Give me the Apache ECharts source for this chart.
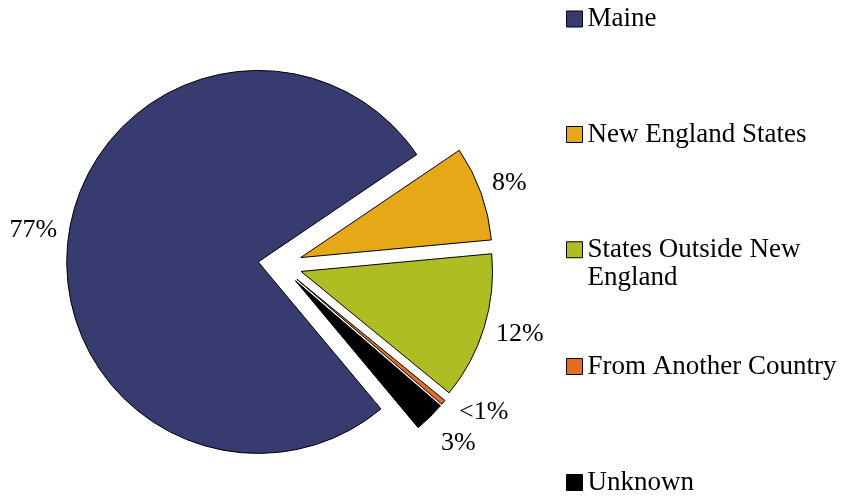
<!DOCTYPE html>
<html>
<head>
<meta charset="utf-8">
<script src="https://cdn.jsdelivr.net/npm/echarts@6/dist/echarts.min.js"></script>
<style>
html,body{margin:0;padding:0;background:#fff;}
#chart{width:844px;height:496px;}
</style>
</head>
<body>
<div id="chart"></div>
<script>
// Data (in pie drawing order, clockwise starting from the "New England States" slice)
const categories = ['New England States', 'States Outside New England', 'From Another Country', 'Unknown', 'Maine'];
const values = [8.0, 12.4, 0.4, 2.6, 76.6];
const valueLabels = ['8%', '12%', '<1%', '3%', '77%'];
const legendOrder = ['Maine', 'New England States', 'States Outside New England', 'From Another Country', 'Unknown'];
const colors = ['#E6A817', '#AEBD21', '#E36F1E', '#000000', '#383B6F'];

// label placement (styles only)
const labelLines = [
  {length: 29.7, length2: -17},
  {length: 22.5, length2: -9.7},
  {length: 14.7, length2: 4.4},
  {length: 36.3, length2: -14.2},
  {length: 37.5, length2: -25.6}
];
const legendTops = [5.5, 121, 207, 353, 469];

const FONT = '"Liberation Serif", "Times New Roman", serif';

const chart = echarts.init(document.getElementById('chart'), null, {renderer: 'canvas'});

const seriesData = categories.map((name, i) => ({
  name: name,
  value: values[i],
  selected: true,
  itemStyle: {color: colors[i]},
  labelLine: labelLines[i]
}));

const legends = legendOrder.map((name, i) => ({
  data: [name],
  orient: 'vertical',
  left: 566,
  top: legendTops[i],
  padding: 0,
  icon: 'rect',
  itemWidth: 16,
  itemHeight: 16,
  selectedMode: false,
  itemStyle: {borderColor: '#000', borderWidth: 1},
  formatter: function (n) {
    return n === 'States Outside New England' ? '\nStates Outside New\nEngland' : n;
  },
  textStyle: name === 'States Outside New England'
    ? {fontFamily: FONT, fontSize: 27, color: '#000', lineHeight: 28.5}
    : {fontFamily: FONT, fontSize: 27, color: '#000', lineHeight: 16}
}));

chart.setOption({
  animation: false,
  backgroundColor: '#ffffff',
  legend: legends,
  series: [{
    type: 'pie',
    center: [280, 265],
    radius: 191.5,
    startAngle: 34.1,
    clockwise: true,
    selectedMode: 'multiple',
    selectedOffset: 22,
    avoidLabelOverlap: false,
    silent: true,
    emphasis: {disabled: true},
    itemStyle: {borderColor: '#000', borderWidth: 1},
    select: {itemStyle: {borderColor: '#000', borderWidth: 1}},
    label: {
      show: true,
      position: 'outside',
      distanceToLabelLine: 0,
      fontFamily: FONT,
      fontSize: 26,
      color: '#000',
      formatter: function (p) { return valueLabels[p.dataIndex]; }
    },
    labelLine: {show: false},
    data: seriesData
  }]
});
</script>
</body>
</html>
